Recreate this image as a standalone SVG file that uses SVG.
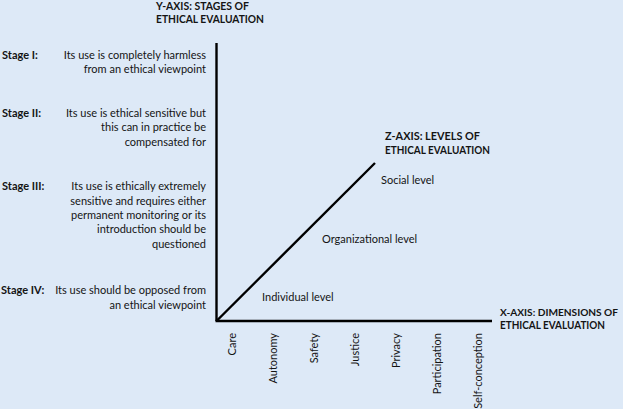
<svg xmlns="http://www.w3.org/2000/svg" width="623" height="409" viewBox="0 0 623 409">
<style>
text{font-family:Lato,"Liberation Sans",sans-serif;font-size:11px;fill:#141414}
.b{font-weight:bold}
.r{text-anchor:end}
.ax{stroke:#000;stroke-width:2.4;fill:none}
</style>
<rect width="623" height="409" fill="#dde9f7"/>
<g id="connectors">
<line class="ax" x1="216.5" y1="43" x2="216.5" y2="321"/>
<line class="ax" x1="215.5" y1="321" x2="492" y2="321"/>
<line class="ax" x1="216.5" y1="321" x2="375" y2="163"/>
</g>
<g id="y-axis-label">
<text class="b" x="156" y="9.5" textLength="93" lengthAdjust="spacingAndGlyphs">Y-AXIS: STAGES OF</text>
<text class="b" x="156" y="23" textLength="108" lengthAdjust="spacingAndGlyphs">ETHICAL EVALUATION</text>
</g>
<g id="stage1">
<text class="b" x="2" y="59">Stage I:</text>
<text class="r" x="206" y="59">Its use is completely harmless</text>
<text class="r" x="206" y="73">from an ethical viewpoint</text>
</g>
<g id="stage2">
<text class="b" x="2" y="117">Stage II:</text>
<text class="r" x="206" y="117">Its use is ethical sensitive but</text>
<text class="r" x="206" y="131">this can in practice be</text>
<text class="r" x="206" y="146">compensated for</text>
</g>
<g id="stage3">
<text class="b" x="2" y="190">Stage III:</text>
<text class="r" x="206" y="190">Its use is ethically extremely</text>
<text class="r" x="206" y="204.5">sensitive and requires either</text>
<text class="r" x="206" y="219">permanent monitoring or its</text>
<text class="r" x="206" y="233">introduction should be</text>
<text class="r" x="206" y="247.5">questioned</text>
</g>
<g id="stage4">
<text class="b" x="1" y="294">Stage IV:</text>
<text class="r" x="206" y="294">Its use should be opposed from</text>
<text class="r" x="206" y="308.5">an ethical viewpoint</text>
</g>
<g id="z-axis-label">
<text class="b" x="385" y="140" textLength="95" lengthAdjust="spacingAndGlyphs">Z-AXIS: LEVELS OF</text>
<text class="b" x="385" y="153.5" textLength="105" lengthAdjust="spacingAndGlyphs">ETHICAL EVALUATION</text>
</g>
<g id="levels">
<text x="381" y="184">Social level</text>
<text x="322" y="243">Organizational level</text>
<text x="262" y="301">Individual level</text>
</g>
<g id="x-axis-label">
<text class="b" x="500" y="316" style="font-size:10.2px" textLength="118" lengthAdjust="spacingAndGlyphs">X-AXIS: DIMENSIONS OF</text>
<text class="b" x="500" y="328.5" textLength="105" lengthAdjust="spacingAndGlyphs">ETHICAL EVALUATION</text>
</g>
<g id="dimensions">
<text class="r" transform="translate(235.5,333) rotate(-90)">Care</text>
<text class="r" transform="translate(276.5,333) rotate(-90)">Autonomy</text>
<text class="r" transform="translate(317.5,333) rotate(-90)">Safety</text>
<text class="r" transform="translate(358.5,333) rotate(-90)">Justice</text>
<text class="r" transform="translate(399.5,333) rotate(-90)">Privacy</text>
<text class="r" transform="translate(440.5,333) rotate(-90)">Participation</text>
<text class="r" transform="translate(481.5,333) rotate(-90)">Self-conception</text>
</g>
</svg>
